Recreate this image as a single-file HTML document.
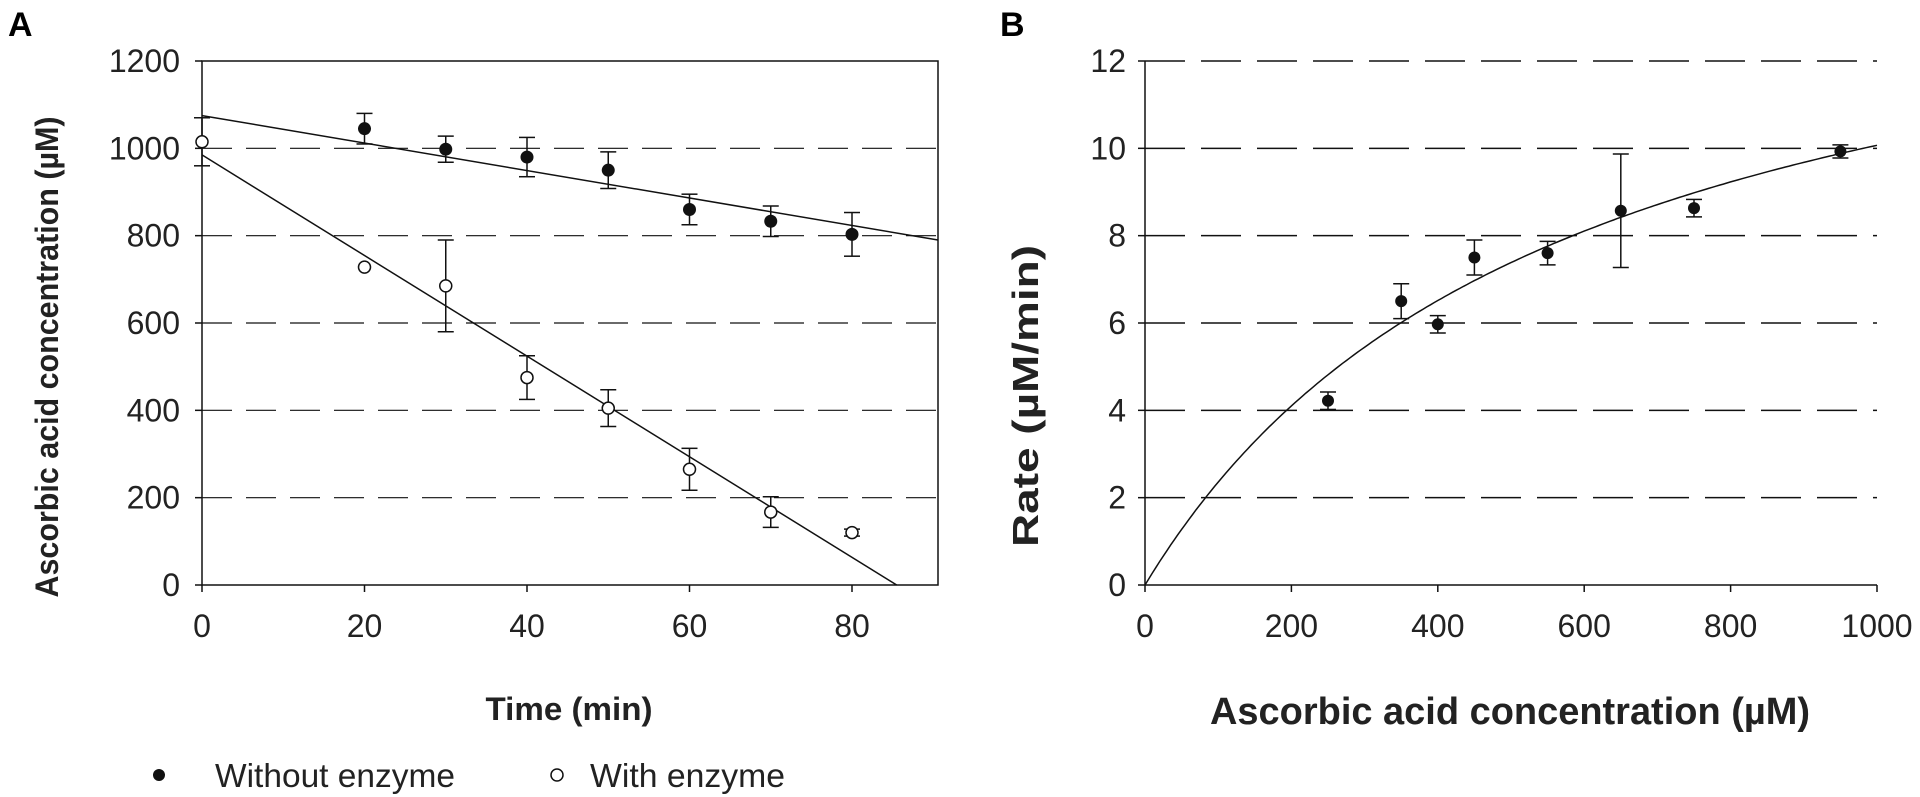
<!DOCTYPE html>
<html><head><meta charset="utf-8"><style>
html,body{margin:0;padding:0;background:#fff;}
svg{display:block;font-family:"Liberation Sans",Arial,sans-serif;}
</style></head><body>
<svg id="s" width="1920" height="797" viewBox="0 0 1920 797" xmlns="http://www.w3.org/2000/svg">
<text x="8" y="36" font-size="34" font-weight="bold">A</text>
<text x="1000" y="36" font-size="34" font-weight="bold">B</text>
<text x="569" y="720" font-size="32" font-weight="bold" text-anchor="middle" fill="#222" textLength="167" lengthAdjust="spacingAndGlyphs">Time (min)</text>
<text x="1510" y="724" font-size="38" font-weight="bold" text-anchor="middle" fill="#222" textLength="600" lengthAdjust="spacingAndGlyphs">Ascorbic acid concentration (µM)</text>
<text transform="translate(58,357) rotate(-90)" font-size="32" font-weight="bold" text-anchor="middle" fill="#222" textLength="481" lengthAdjust="spacingAndGlyphs">Ascorbic acid concentration (µM)</text>
<text transform="translate(1038,396) rotate(-90)" font-size="36" font-weight="bold" text-anchor="middle" fill="#222" textLength="302" lengthAdjust="spacingAndGlyphs">Rate (µM/min)</text>
<circle cx="159" cy="775" r="6" fill="#111"/>
<text x="215" y="787" font-size="33" fill="#222" textLength="240" lengthAdjust="spacingAndGlyphs">Without enzyme</text>
<circle cx="557" cy="775" r="6" fill="#fff" stroke="#111" stroke-width="1.5"/>
<text x="590" y="787" font-size="33" fill="#222" textLength="195" lengthAdjust="spacingAndGlyphs">With enzyme</text>
<g id="g"></g>
</svg>
<script>
const g=document.getElementById('g');let h='';
function L(x1,y1,x2,y2,w,d){h+=`<line x1="${x1}" y1="${y1}" x2="${x2}" y2="${y2}" stroke="#111" stroke-width="${w||1.5}" ${d?'stroke-dasharray="'+d+'"':''}/>`;}
function T(x,y,s,a,fs){h+=`<text x="${x}" y="${y}" font-size="${fs||32}" text-anchor="${a}" fill="#222">${s}</text>`;}
// Panel A
const AL=202,AR=938,AT=61,AB=585;
const ax=v=>AL+v*8.125, ay=v=>AB-v*(AB-AT)/1200;
for(let v=200;v<=1000;v+=200)L(AL,ay(v),AR,ay(v),1.2,'30,14');
h+=`<rect x="${AL}" y="${AT}" width="${AR-AL}" height="${AB-AT}" fill="none" stroke="#111" stroke-width="1.5"/>`;
for(let v=0;v<=1200;v+=200){L(AL-7,ay(v),AL,ay(v));T(180,ay(v)+11,v,'end');}
for(let v=0;v<=80;v+=20){L(ax(v),AB,ax(v),AB+7);T(ax(v),AB+52,v,'middle');}
L(AL,ay(1075),AR,ay(790),1.5);
L(AL,ay(985),ax(85.5),AB,1.5);
function eb(x,y,e){L(x,y-e,x,y+e,1.5);L(x-8,y-e,x+8,y-e,1.5);L(x-8,y+e,x+8,y+e,1.5);}
const F=[[20,1045,35],[30,998,30],[40,980,45],[50,950,42],[60,860,35],[70,833,35],[80,803,50]];
const O=[[0,1015,55],[20,728,0],[30,685,105],[40,475,50],[50,405,42],[60,265,48],[70,167,35],[80,120,8]];
F.forEach(p=>{eb(ax(p[0]),ay(p[1]),p[2]*(AB-AT)/1200);h+=`<circle cx="${ax(p[0])}" cy="${ay(p[1])}" r="6.5" fill="#111"/>`;});
O.forEach(p=>{if(p[2])eb(ax(p[0]),ay(p[1]),p[2]*(AB-AT)/1200);h+=`<circle cx="${ax(p[0])}" cy="${ay(p[1])}" r="6" fill="#fff" stroke="#111" stroke-width="1.5"/>`;});
// Panel B
const BL=1145,BR=1877,BT=61,BB=585;
const bx=v=>BL+v*(BR-BL)/1000, by=v=>BB-v*(BB-BT)/12;
for(let v=2;v<=12;v+=2)L(BL,by(v),BR,by(v),1.5,'40,16');
L(BL,BT,BL,BB,1.5);L(BL,BB,BR,BB,1.5);
for(let v=0;v<=12;v+=2){L(BL-7,by(v),BL,by(v));T(1126,by(v)+11,v,'end');}
for(let v=0;v<=1000;v+=200){L(bx(v),BB,bx(v),BB+7);T(bx(v),BB+52,v,'middle');}
let d='';for(let x=0;x<=1000;x+=5){const y=15.83*x/(572+x);d+=(x?'L':'M')+bx(x).toFixed(1)+','+by(y).toFixed(1);}
h+=`<path d="${d}" fill="none" stroke="#111" stroke-width="1.5"/>`;
const P=[[250,4.22,.2],[350,6.5,.4],[400,5.97,.2],[450,7.5,.4],[550,7.6,.27],[650,8.57,1.3],[750,8.63,.2],[950,9.93,.15]];
P.forEach(p=>{eb(bx(p[0]),by(p[1]),p[2]*(BB-BT)/12);h+=`<circle cx="${bx(p[0])}" cy="${by(p[1])}" r="6" fill="#111"/>`;});
g.innerHTML=h;
</script>
</body></html>
